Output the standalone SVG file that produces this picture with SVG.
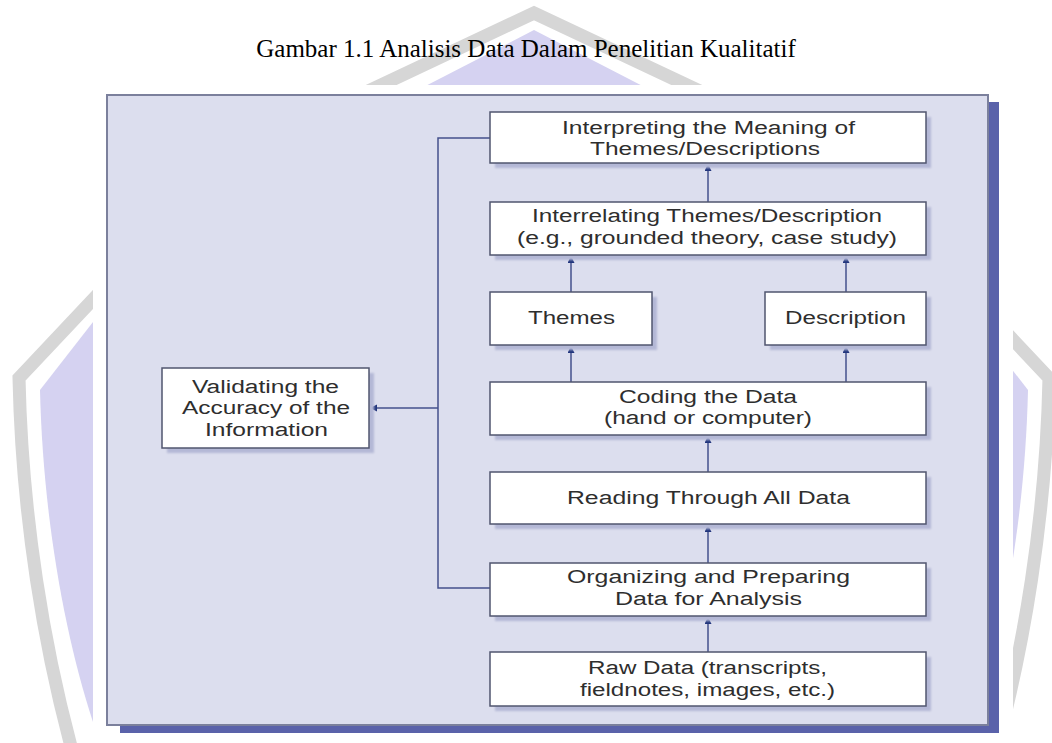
<svg xmlns="http://www.w3.org/2000/svg" width="1052" height="743" viewBox="0 0 1052 743">
<defs>
<style>
.wm-grey{fill:none;stroke:#d6d6d6;stroke-width:13;stroke-linejoin:miter}
.wm-purple{fill:#d5d2f1;stroke:none}
.box{fill:#ffffff;stroke:#50566f;stroke-width:1.5}
.shadow{fill:#b4b8d6;filter:url(#blur)}
.lbl{font-family:"Liberation Sans",Arial,sans-serif;font-size:18px;fill:#2e2e2e}
.conn{fill:none;stroke:#44508c;stroke-width:1.5}
.title{font-family:"Liberation Serif","Times New Roman",serif;font-size:25px;fill:#000}
</style>
<filter id="blur" x="-10%" y="-10%" width="120%" height="130%"><feGaussianBlur stdDeviation="1.2"/></filter>
<marker id="ah" markerUnits="userSpaceOnUse" markerWidth="8" markerHeight="8" refX="7" refY="3.5" orient="auto">
<path d="M0,0 L7,3.5 L0,7 Z" fill="#22367d"/>
</marker>
</defs>
<rect width="1052" height="743" fill="#ffffff"/>
<g id="watermark">
<path class="wm-purple" d="M408,95 L534,30 L660,95 Z"/>
<path class="wm-grey" d="M360,95 L534,13 L708,95"/>
<path class="wm-purple" d="M93,322 L40,390 C43,520 66,640 93,722 Z"/>
<path class="wm-grey" d="M100,292 L19,378 C22,520 45,650 72,750"/>
<path class="wm-purple" d="M975,322 L1028,390 C1025,520 1002,640 975,722 Z"/>
<path class="wm-grey" d="M968,292 L1049,378 C1046,520 1023,650 996,750"/>
</g>
<rect x="93" y="85" width="920" height="658" fill="#ffffff"/>
<text class="title" x="526" y="57" text-anchor="middle">Gambar 1.1 Analisis Data Dalam Penelitian Kualitatif</text>
<g id="panel">
<rect x="987" y="102" width="12" height="631" fill="#5a62aa"/>
<rect x="120" y="724" width="879" height="9" fill="#5a62aa"/>
<rect x="107" y="95" width="881" height="630" fill="#dcdeee" stroke="#7b809c" stroke-width="2"/>
</g>
<g id="connectors">
<path class="conn" d="M490,138 H438 V588 H490"/>
<path class="conn" d="M438,408 H370" marker-end="url(#ah)"/>
<path class="conn" d="M708,202 V164" marker-end="url(#ah)"/>
<path class="conn" d="M571,292 V256" marker-end="url(#ah)"/>
<path class="conn" d="M846,292 V256" marker-end="url(#ah)"/>
<path class="conn" d="M571,382 V346" marker-end="url(#ah)"/>
<path class="conn" d="M846,382 V346" marker-end="url(#ah)"/>
<path class="conn" d="M708,472 V436" marker-end="url(#ah)"/>
<path class="conn" d="M708,563 V525" marker-end="url(#ah)"/>
<path class="conn" d="M708,652 V617" marker-end="url(#ah)"/>
</g>
<g id="interpreting">
<rect class="shadow" x="495" y="117" width="436" height="51"/>
<rect class="box" x="490" y="112" width="436" height="51"/>
<text class="lbl" x="562" y="134" textLength="293" lengthAdjust="spacingAndGlyphs">Interpreting the Meaning of</text>
<text class="lbl" x="590" y="155" textLength="230" lengthAdjust="spacingAndGlyphs">Themes/Descriptions</text>
</g>
<g id="interrelating">
<rect class="shadow" x="495" y="207" width="436" height="53"/>
<rect class="box" x="490" y="202" width="436" height="53"/>
<text class="lbl" x="532" y="222" textLength="350" lengthAdjust="spacingAndGlyphs">Interrelating Themes/Description</text>
<text class="lbl" x="517" y="244" textLength="380" lengthAdjust="spacingAndGlyphs">(e.g., grounded theory, case study)</text>
</g>
<g id="themes">
<rect class="shadow" x="495" y="297" width="162" height="53"/>
<rect class="box" x="490" y="292" width="162" height="53"/>
<text class="lbl" x="528" y="324" textLength="87" lengthAdjust="spacingAndGlyphs">Themes</text>
</g>
<g id="description">
<rect class="shadow" x="770" y="297" width="161" height="53"/>
<rect class="box" x="765" y="292" width="161" height="53"/>
<text class="lbl" x="785" y="324" textLength="121" lengthAdjust="spacingAndGlyphs">Description</text>
</g>
<g id="coding">
<rect class="shadow" x="495" y="387" width="436" height="53"/>
<rect class="box" x="490" y="382" width="436" height="53"/>
<text class="lbl" x="619" y="403" textLength="178" lengthAdjust="spacingAndGlyphs">Coding the Data</text>
<text class="lbl" x="604" y="424" textLength="208" lengthAdjust="spacingAndGlyphs">(hand or computer)</text>
</g>
<g id="reading">
<rect class="shadow" x="495" y="477" width="436" height="52"/>
<rect class="box" x="490" y="472" width="436" height="52"/>
<text class="lbl" x="567" y="504" textLength="283" lengthAdjust="spacingAndGlyphs">Reading Through All Data</text>
</g>
<g id="organizing">
<rect class="shadow" x="495" y="568" width="436" height="53"/>
<rect class="box" x="490" y="563" width="436" height="53"/>
<text class="lbl" x="567" y="583" textLength="283" lengthAdjust="spacingAndGlyphs">Organizing and Preparing</text>
<text class="lbl" x="615" y="605" textLength="187" lengthAdjust="spacingAndGlyphs">Data for Analysis</text>
</g>
<g id="rawdata">
<rect class="shadow" x="495" y="657" width="436" height="54"/>
<rect class="box" x="490" y="652" width="436" height="54"/>
<text class="lbl" x="588" y="674" textLength="239" lengthAdjust="spacingAndGlyphs">Raw Data (transcripts,</text>
<text class="lbl" x="580" y="696" textLength="255" lengthAdjust="spacingAndGlyphs">fieldnotes, images, etc.)</text>
</g>
<g id="validating">
<rect class="shadow" x="167" y="373" width="207" height="80"/>
<rect class="box" x="162" y="368" width="207" height="80"/>
<text class="lbl" x="192" y="393" textLength="147" lengthAdjust="spacingAndGlyphs">Validating the</text>
<text class="lbl" x="182" y="414" textLength="168" lengthAdjust="spacingAndGlyphs">Accuracy of the</text>
<text class="lbl" x="205" y="436" textLength="123" lengthAdjust="spacingAndGlyphs">Information</text>
</g>
</svg>
